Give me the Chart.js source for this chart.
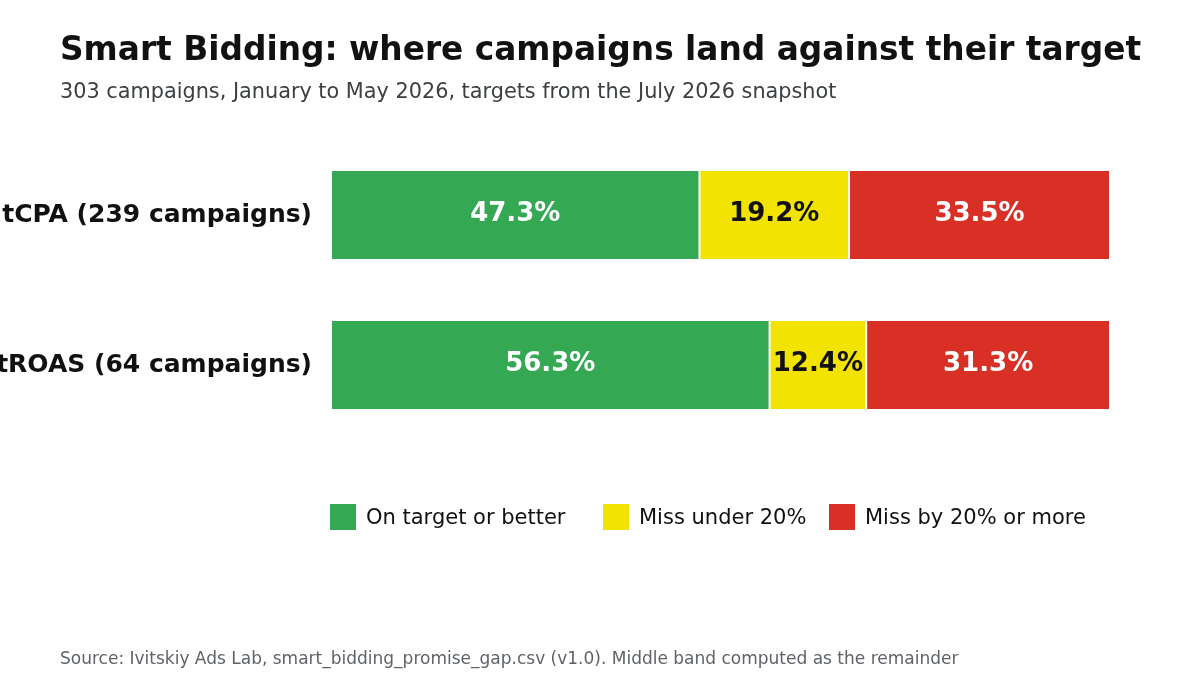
<!DOCTYPE html>
<html>
<head>
<meta charset="utf-8">
<script src="https://cdn.jsdelivr.net/npm/chart.js@4"></script>
<style>
  html, body { margin: 0; padding: 0; background: #fff; }
  body { width: 1200px; height: 700px; position: relative; overflow: hidden; font-family: "DejaVu Sans", sans-serif; }
  #chart { position: absolute; left: 0; top: 0; }
  .title { position: absolute; left: 60px; top: 30px; font-size: 32.8px; font-weight: bold; color: #111; white-space: nowrap; }
  .subtitle { position: absolute; left: 60px; top: 79px; font-size: 20.8px; color: #3c4043; white-space: nowrap; }
  .source { position: absolute; left: 60px; top: 648px; font-size: 17px; color: #5f6368; white-space: nowrap; }
  .legend-item { position: absolute; top: 504px; height: 26px; display: flex; align-items: center; font-size: 21px; color: #111; white-space: nowrap; }
  .legend-item span.box { display: inline-block; width: 26px; height: 26px; margin-right: 10px; }
</style>
</head>
<body>
<canvas id="chart" width="1200" height="700"></canvas>
<div class="title">Smart Bidding: where campaigns land against their target</div>
<div class="subtitle">303 campaigns, January to May 2026, targets from the July 2026 snapshot</div>
<div id="legend"></div>
<div class="source">Source: Ivitskiy Ads Lab, smart_bidding_promise_gap.csv (v1.0). Middle band computed as the remainder</div>
<script>
// categories and shares (% of campaigns)
const categorias = ['tCPA (239 campaigns)', 'tROAS (64 campaigns)'];
const series = ['On target or better', 'Miss under 20%', 'Miss by 20% or more'];
const onTarget = [47.3, 56.3];
const missUnder20 = [19.2, 12.4];
const missOver20 = [33.5, 31.3];

const colores = ['#34a853', '#f2e400', '#d93025'];
const colorTexto = ['#ffffff', '#111111', '#ffffff'];
const legendX = [330, 603, 829];

// leyenda en html
const legend = document.getElementById('legend');
series.forEach((nombre, i) => {
  const item = document.createElement('div');
  item.className = 'legend-item';
  item.style.left = legendX[i] + 'px';
  item.innerHTML = '<span class="box" style="background:' + colores[i] + '"></span>' + nombre;
  legend.appendChild(item);
});

// etiquetas dentro de cada barra
const etiquetas = {
  id: 'etiquetas',
  afterDatasetsDraw(chart) {
    const ctx = chart.ctx;
    ctx.save();
    ctx.font = 'bold 26px "DejaVu Sans"';
    ctx.textAlign = 'center';
    ctx.textBaseline = 'middle';
    chart.data.datasets.forEach((ds, i) => {
      chart.getDatasetMeta(i).data.forEach((bar, j) => {
        const x = (bar.x + bar.base) / 2;
        ctx.fillStyle = colorTexto[i];
        ctx.fillText(ds.data[j].toFixed(1) + '%', x, bar.y - 1);
      });
    });
    ctx.restore();
  }
};

const ctx = document.getElementById('chart').getContext('2d');
new Chart(ctx, {
  type: 'bar',
  data: {
    labels: categorias,
    datasets: [onTarget, missUnder20, missOver20].map((valores, i) => ({
      label: series[i],
      data: valores,
      backgroundColor: colores[i],
      borderColor: '#ffffff',
      borderWidth: 1,
      borderSkipped: false,
      barPercentage: 0.6,
      categoryPercentage: 1
    }))
  },
  options: {
    indexAxis: 'y',
    responsive: false,
    animation: false,
    layout: {
      padding: { top: 140, bottom: 260, right: 90, left: 0 }
    },
    scales: {
      x: {
        stacked: true,
        min: 0,
        max: 100,
        display: false
      },
      y: {
        stacked: true,
        grid: { display: false, drawTicks: false },
        border: { display: false },
        ticks: {
          color: '#111',
          padding: 19,
          font: { family: 'DejaVu Sans', size: 25, weight: 'bold' }
        },
        afterFit: (scale) => { scale.width = 331; }
      }
    },
    plugins: {
      legend: { display: false },
      tooltip: { enabled: false }
    }
  },
  plugins: [etiquetas]
});
</script>
</body>
</html>
